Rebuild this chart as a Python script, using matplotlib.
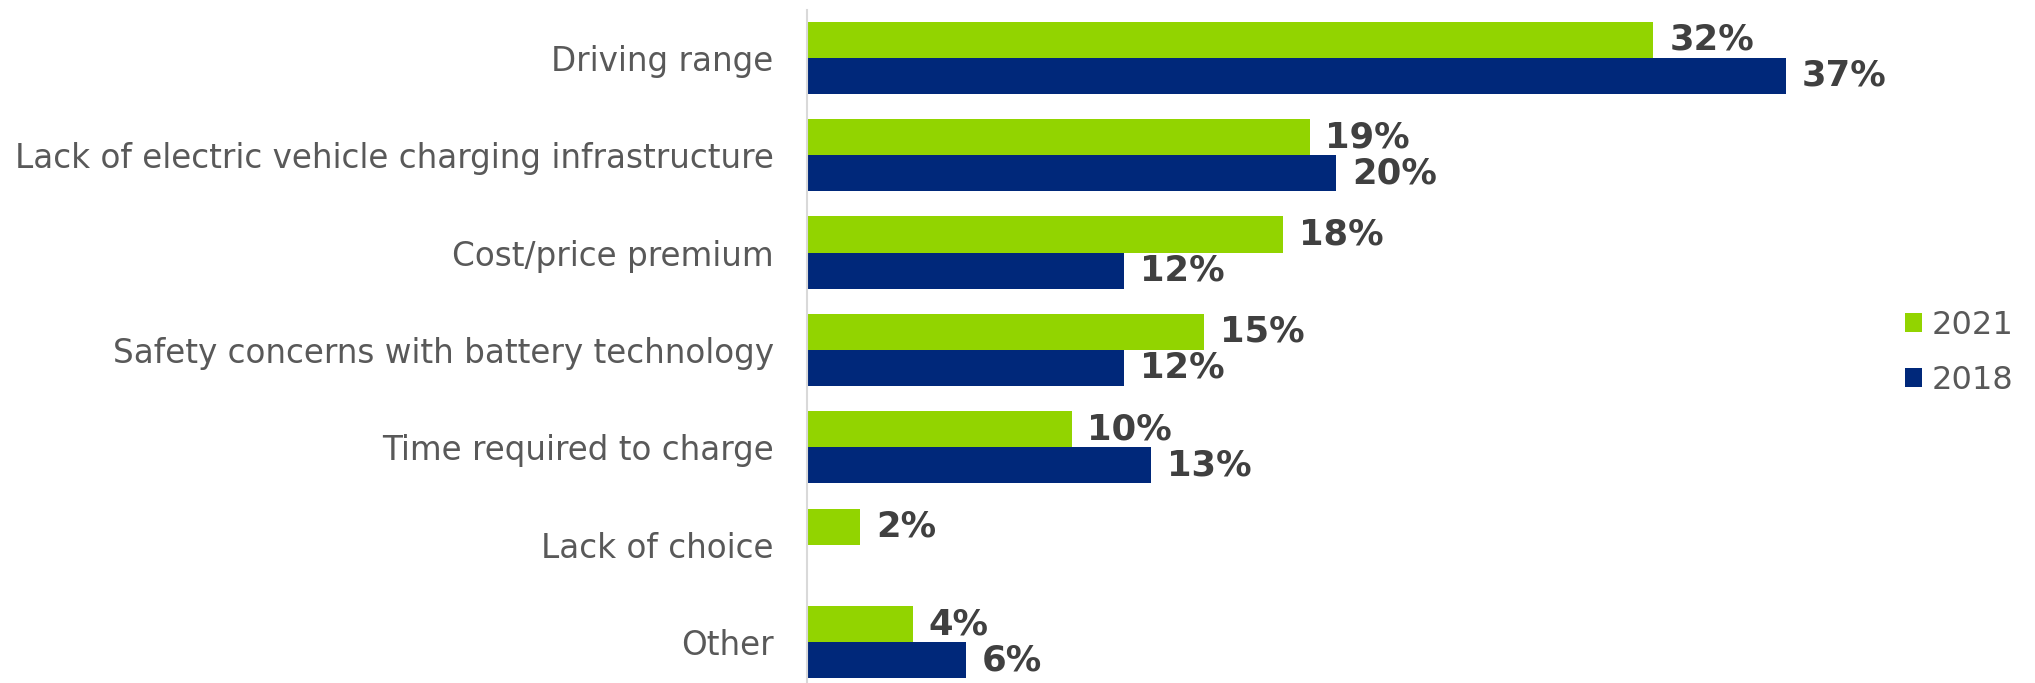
import numpy as np
import matplotlib.pyplot as plt

categories = ['Driving range',
              'Lack of electric vehicle charging infrastructure',
              'Cost/price premium',
              'Safety concerns with battery technology',
              'Time required to charge',
              'Lack of choice',
              'Other']
vals_2021 = [32, 19, 18, 15, 10, 2, 4]
vals_2018 = [37, 20, 12, 12, 13, None, 6]

green = '#92D400'
navy = '#00287A'

plt.rcParams['font.family'] = ['DejaVu Sans']

fig = plt.figure(figsize=(20.35, 6.83), dpi=100)
ax = fig.add_axes([807 / 2035, 0.0, 1058 / 2035, 1 - 10 / 683])

y = np.arange(len(categories))
h = 0.37

v21 = np.array(vals_2021, dtype=float)
v18 = np.array([np.nan if v is None else v for v in vals_2018], dtype=float)

b1 = ax.barh(y - h / 2, v21, height=h, color=green, label='2021')
b2 = ax.barh(y + h / 2, np.nan_to_num(v18), height=h, color=navy, label='2018')

for yi, v in zip(y, v21):
    ax.text(v + 0.6, yi - h / 2, f'{v:.0f}%', va='center', ha='left',
            fontsize=25.5, fontweight='bold', color='#404040')
for yi, v in zip(y, v18):
    if np.isnan(v):
        continue
    ax.text(v + 0.6, yi + h / 2, f'{v:.0f}%', va='center', ha='left',
            fontsize=25.5, fontweight='bold', color='#404040')

ax.set_xlim(0, 40)
ax.set_ylim(6.42, -0.49)
ax.set_yticks(y)
ax.set_yticklabels(categories, fontsize=23.5, color='#595959')
ax.tick_params(axis='y', length=0, pad=24)
ax.set_xticks([])
for s in ['top', 'right', 'bottom']:
    ax.spines[s].set_visible(False)
ax.spines['left'].set_color('#D9D9D9')
ax.spines['left'].set_linewidth(1.5)

leg = fig.legend(handles=[b1, b2], labels=['2021', '2018'], loc='center left',
                 bbox_to_anchor=(1876 / 2035, 1 - 353 / 683), frameon=False,
                 fontsize=23, handlelength=0.55, handleheight=0.55,
                 handletextpad=0.3, labelspacing=0.75, labelcolor='#595959')

fig.savefig('out.png', dpi=100)
